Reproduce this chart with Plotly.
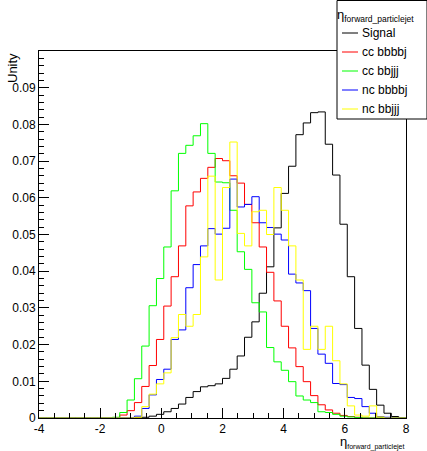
import numpy as np
import plotly.graph_objects as go

# ---------------- data ----------------
X_LO = -4.0
X_HI = 8.0
N_BINS = 50

series_names = ["Signal", "cc bbbbj", "cc bbjjj", "nc bbbbj", "nc bbjjj"]
series_colors = ["#000000", "#ff0000", "#00ff00", "#0000ff", "#ffff00"]

signal = [0, 0, 0, 0, 0, 0, 0, 0, 0, 0,
          0, 0, 0, 0.0001, 0.0002, 0.0005, 0.0010, 0.0017, 0.0026, 0.0038,
          0.0056, 0.0072, 0.0085, 0.0088, 0.0093, 0.0108, 0.0133, 0.0169, 0.0220, 0.0262,
          0.0340, 0.0412, 0.0518, 0.0612, 0.0686, 0.0772, 0.0804, 0.0832, 0.0834, 0.0746,
          0.0662, 0.0528, 0.0385, 0.0244, 0.0144, 0.0078, 0.0035, 0.0013, 0.0004, 0.0001]

cc_bbbbj = [0, 0, 0, 0, 0, 0, 0, 0, 0, 0,
            0, 0.0008, 0.0020, 0.0042, 0.0086, 0.0143, 0.0214, 0.0305, 0.0385, 0.0469,
            0.0578, 0.0616, 0.0653, 0.0683, 0.0707, 0.0701, 0.0660, 0.0640, 0.0582, 0.0532,
            0.0466, 0.0397, 0.0319, 0.0250, 0.0191, 0.0140, 0.0099, 0.0061, 0.0036, 0.0022,
            0.0013, 0.0007, 0.0004, 0.0002, 0, 0, 0, 0, 0, 0]

cc_bbjjj = [0, 0, 0, 0, 0, 0, 0, 0, 0, 0,
            0.0002, 0.0015, 0.0049, 0.0107, 0.0196, 0.0306, 0.0380, 0.0466, 0.0619, 0.0721,
            0.0743, 0.0769, 0.0802, 0.0721, 0.0643, 0.0641, 0.0566, 0.0453, 0.0405, 0.0314,
            0.0289, 0.0192, 0.0153, 0.0130, 0.0099, 0.0060, 0.0049, 0.0042, 0.0017, 0.0015,
            0.0010, 0.0005, 0.0003, 0.0001, 0, 0, 0, 0, 0, 0]

nc_bbbbj = [0, 0, 0, 0, 0, 0, 0, 0, 0, 0,
            0, 0, 0, 0.0005, 0.0026, 0.0063, 0.0105, 0.0133, 0.0214, 0.0240,
            0.0355, 0.0418, 0.0469, 0.0516, 0.0501, 0.0517, 0.0651, 0.0575, 0.0582, 0.0603,
            0.0532, 0.0519, 0.0501, 0.0485, 0.0392, 0.0368, 0.0347, 0.0244, 0.0174, 0.0149,
            0.0094, 0.0091, 0.0056, 0.0053, 0.0031, 0.0013, 0.0004, 0.0002, 0, 0]

nc_bbjjj = [0, 0, 0, 0, 0, 0, 0, 0, 0, 0,
            0, 0, 0, 0.0002, 0.0031, 0.0065, 0.0093, 0.0123, 0.0219, 0.0282,
            0.0250, 0.0282, 0.0439, 0.0659, 0.0376, 0.0628, 0.0752, 0.0503, 0.0469, 0.0562,
            0.0566, 0.0500, 0.0628, 0.0566, 0.0469, 0.0376, 0.0187, 0.0250, 0.0187, 0.0250,
            0.0156, 0.0093, 0.0033, 0.0008, 0.0005, 0.0033, 0.0003, 0, 0, 0]

series_values = [signal, cc_bbbbj, cc_bbjjj, nc_bbbbj, nc_bbjjj]

x_tick_vals = [-4, -2, 0, 2, 4, 6, 8]
x_tick_text = ["-4", "-2", "0", "2", "4", "6", "8"]
y_tick_vals = [0, 0.01, 0.02, 0.03, 0.04, 0.05, 0.06, 0.07, 0.08, 0.09]
y_tick_text = ["0", "0.01", "0.02", "0.03", "0.04", "0.05", "0.06", "0.07", "0.08", "0.09"]
Y_MAX = 0.1

axis_title_x = "η<sub><span style='font-size:7px'>forward_particlejet</span></sub>"
axis_title_y = "Unity"
legend_title = "η<sub><span style='font-size:8.5px'>forward_particlejet</span></sub>"

# ---------------- layout constants ----------------
W, H = 427, 451
L, R, T, B = 39, 21, 51, 33
PW = W - L - R
PH = H - T - B
FONT = "Liberation Sans, Arial, Helvetica, sans-serif"
FS = 12


def px_x(px):
    return (px - L) / PW


def px_y(py):
    return (H - B - py) / PH


edges = np.linspace(X_LO, X_HI, N_BINS + 1)

fig = go.Figure()
for name, color, vals in zip(series_names, series_colors, series_values):
    yv = list(vals) + [vals[-1]]
    fig.add_trace(go.Scatter(
        x=edges, y=yv, mode="lines", name=name,
        line=dict(color=color, width=1, shape="hv"),
        showlegend=False, hoverinfo="skip",
    ))

fig.update_layout(
    width=W, height=H, autosize=False,
    margin=dict(l=L, r=R, t=T, b=B, pad=0, autoexpand=False),
    paper_bgcolor="white", plot_bgcolor="white",
    font=dict(family=FONT, size=FS, color="black"),
)

fig.update_xaxes(
    range=[X_LO, X_HI], tickmode="array", tickvals=x_tick_vals, ticktext=x_tick_text,
    ticks="inside", ticklen=10, tickwidth=1, tickcolor="black",
    showline=True, linecolor="black", linewidth=1, mirror=True,
    showgrid=False, zeroline=False, automargin=False,
    tickfont=dict(family=FONT, size=FS),
    minor=dict(tickmode="linear", tick0=X_LO, dtick=0.5, ticks="inside", ticklen=5,
               tickcolor="black", tickwidth=1, showgrid=False),
)
fig.update_yaxes(
    range=[0, Y_MAX], tickmode="array", tickvals=y_tick_vals, ticktext=y_tick_text,
    ticks="inside", ticklen=10, tickwidth=1, tickcolor="black",
    showline=True, linecolor="black", linewidth=1, mirror=True,
    showgrid=False, zeroline=False, automargin=False,
    tickfont=dict(family=FONT, size=FS),
    minor=dict(tickmode="linear", tick0=0, dtick=0.002, ticks="inside", ticklen=5,
               tickcolor="black", tickwidth=1, showgrid=False),
)

shapes = []
annotations = []

# axis titles
annotations.append(dict(
    text=axis_title_x, xref="paper", yref="paper", x=px_x(406), y=px_y(432),
    xanchor="right", yanchor="top", showarrow=False,
    font=dict(family=FONT, size=13),
))
annotations.append(dict(
    text=axis_title_y, xref="paper", yref="paper", x=px_x(12), y=px_y(51),
    xanchor="center", yanchor="top", textangle=-90, showarrow=False,
    font=dict(family=FONT, size=13),
))

# legend box
shapes.append(dict(
    type="rect", xref="paper", yref="paper",
    x0=px_x(337), x1=px_x(427), y0=px_y(119), y1=px_y(0.5),
    line=dict(color="black", width=1), fillcolor="white", layer="above",
))
annotations.append(dict(
    text=legend_title, xref="paper", yref="paper", x=px_x(335), y=px_y(15),
    xanchor="left", yanchor="middle", showarrow=False,
    font=dict(family=FONT, size=13),
))
entry_y = [33, 52, 71, 90, 109]
for name, color, ey in zip(series_names, series_colors, entry_y):
    shapes.append(dict(
        type="line", xref="paper", yref="paper",
        x0=px_x(342), x1=px_x(358), y0=px_y(ey), y1=px_y(ey),
        line=dict(color=color, width=1), layer="above",
    ))
    annotations.append(dict(
        text=name, xref="paper", yref="paper", x=px_x(360), y=px_y(ey),
        xanchor="left", yanchor="middle", showarrow=False,
        font=dict(family=FONT, size=FS),
    ))

fig.update_layout(shapes=shapes, annotations=annotations)

fig.write_html(
    "out.html",
    config={"displayModeBar": False, "staticPlot": True},
    post_script="document.body.style.margin='0';document.body.style.overflow='hidden';",
)
